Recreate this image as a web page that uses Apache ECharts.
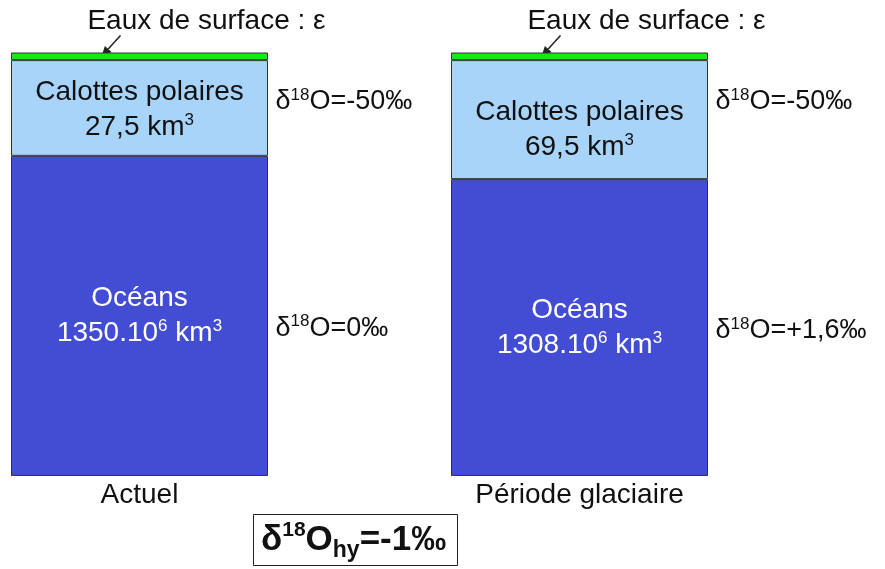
<!DOCTYPE html>
<html>
  <head>
    <meta charset="utf-8" />
    <title>ECharts</title>
    <script src="https://cdn.jsdelivr.net/npm/echarts@6/dist/echarts.min.js"></script>
  </head>
  <body style="margin:0">
    <div id="main" style="width: 885px;height:569px;"></div>
    <script type="text/javascript">
      // catégories (colonnes)
      var categories = ['Actuel', 'Période glaciaire'];
      // hauteurs schématiques des réservoirs (en % de la colonne)
      var surfaceHeights = [1.8, 1.8];
      var capHeights = [22.6, 28.1];
      var oceanHeights = [75.6, 70.1];
      // textes des réservoirs
      var capVolumes = ['27,5', '69,5'];
      var oceanVolumes = ['1350.10', '1308.10'];
      var deltaCap = ['-50', '-50'];
      var deltaOcean = ['0', '+1,6'];
      // hauteur (même échelle) où sont écrits les delta
      var deltaCapY = [88.4, 88.4];
      var deltaOceanY = [34.9, 34.4];
      var deltaHydro = '-1';

      var font = 'Liberation Sans';
      var myChart = echarts.init(document.getElementById('main'));

      var rich = {
        n: { fontSize: 28, fontFamily: font, color: '#111', lineHeight: 35 },
        w: { fontSize: 28, fontFamily: font, color: '#fff', lineHeight: 35 },
        s: { fontSize: 17, fontFamily: font, color: '#111', verticalAlign: 'top', padding: [2, 0, 0, 0] },
        sw: { fontSize: 17, fontFamily: font, color: '#fff', verticalAlign: 'top', padding: [2, 0, 0, 0] },
        d: { fontSize: 27, fontFamily: font, color: '#111', lineHeight: 30 },
        ds: { fontSize: 17, fontFamily: font, color: '#111', verticalAlign: 'top', padding: [0, 0, 0, 0] }
      };

      var deltaData = [];
      categories.forEach(function (c, i) {
        deltaData.push({ value: [i, deltaCapY[i]], txt: deltaCap[i] });
        deltaData.push({ value: [i, deltaOceanY[i]], txt: deltaOcean[i] });
      });

      option = {
        animation: false,
        title: {
          left: 253,
          top: 514,
          padding: [4, 12, 4, 8],
          borderColor: '#222',
          borderWidth: 1,
          text: '{b|δ}{bs|18}{b|O}{bh|hy}{b|=' + deltaHydro + '‰}',
          textStyle: {
            rich: {
              b: { fontSize: 35, fontWeight: 'bold', fontFamily: font, color: '#111', lineHeight: 44 },
              bs: { fontSize: 21, fontWeight: 'bold', fontFamily: font, color: '#111', lineHeight: 21, verticalAlign: 'top', padding: [2, 0, 0, 0] },
              bh: { fontSize: 23, fontWeight: 'bold', fontFamily: font, color: '#111', lineHeight: 20, verticalAlign: 'bottom' }
            }
          }
        },
        grid: { left: 139.5, right: 305.5, top: 52.5, bottom: 93 },
        xAxis: {
          type: 'category',
          boundaryGap: false,
          data: categories,
          axisLine: { show: false },
          axisTick: { show: false },
          axisLabel: { fontSize: 28, fontFamily: font, color: '#111', margin: 5 }
        },
        yAxis: { type: 'value', min: 0, max: 100, show: false },
        series: [
          {
            name: 'Océans',
            type: 'bar',
            stack: 'eau',
            barWidth: 257,
            clip: false,
            itemStyle: { color: '#434dd4', borderColor: '#333', borderWidth: 1 },
            label: {
              show: true,
              position: 'inside',
              formatter: function (p) {
                return '{w|Océans}\n{w|' + oceanVolumes[p.dataIndex] + '}{sw|6}{w| km}{sw|3}';
              },
              rich: rich
            },
            data: oceanHeights
          },
          {
            name: 'Calottes polaires',
            type: 'bar',
            stack: 'eau',
            barWidth: 257,
            clip: false,
            itemStyle: { color: '#a8d4fa', borderColor: '#333', borderWidth: 1 },
            label: {
              show: true,
              position: 'inside',
              formatter: function (p) {
                return '{n|Calottes polaires}\n{n|' + capVolumes[p.dataIndex] + ' km}{s|3}';
              },
              rich: rich
            },
            data: capHeights.map(function (v, i) {
              return { value: v, label: { offset: [0, i === 0 ? 2 : 10] } };
            })
          },
          {
            name: 'Eaux de surface',
            type: 'bar',
            stack: 'eau',
            barWidth: 257,
            clip: false,
            itemStyle: { color: '#12ea12', borderColor: '#333', borderWidth: 1 },
            label: {
              show: true,
              position: 'top',
              distance: 14,
              offset: [67, 0],
              formatter: '{n|Eaux de surface : ε}',
              rich: rich
            },
            data: surfaceHeights
          },
          {
            name: 'delta',
            type: 'scatter',
            symbolSize: 0,
            clip: false,
            silent: true,
            itemStyle: { opacity: 1 },
            label: {
              show: true,
              position: 'right',
              distance: 0,
              offset: [136, 0],
              color: '#111',
              formatter: function (p) {
                return '{d|δ}{ds|18}{d|O=' + p.data.txt + '‰}';
              },
              rich: rich
            },
            data: deltaData
          }
        ]
      };
      myChart.setOption(option);

      // flèches vers la couche d'eaux de surface
      var arrows = categories.map(function (c, i) {
        var top = myChart.convertToPixel({ gridIndex: 0 }, [i, surfaceHeights[i] + capHeights[i] + oceanHeights[i]]);
        var x1 = top[0] - 19, y1 = top[1] - 17;
        var x2 = top[0] - 38, y2 = top[1] + 4;
        var ang = Math.atan2(y2 - y1, x2 - x1);
        var L = 10, W = 4.5;
        var bx = x2 - L * Math.cos(ang), by = y2 - L * Math.sin(ang);
        return {
          type: 'group',
          children: [
            { type: 'line', shape: { x1: x1, y1: y1, x2: bx, y2: by }, style: { stroke: '#222', lineWidth: 1.5 } },
            {
              type: 'polygon',
              shape: {
                points: [
                  [x2, y2],
                  [bx + W * Math.sin(ang), by - W * Math.cos(ang)],
                  [bx - W * Math.sin(ang), by + W * Math.cos(ang)]
                ]
              },
              style: { fill: '#222' }
            }
          ]
        };
      });
      myChart.setOption({ graphic: arrows });
    </script>
  </body>
</html>
